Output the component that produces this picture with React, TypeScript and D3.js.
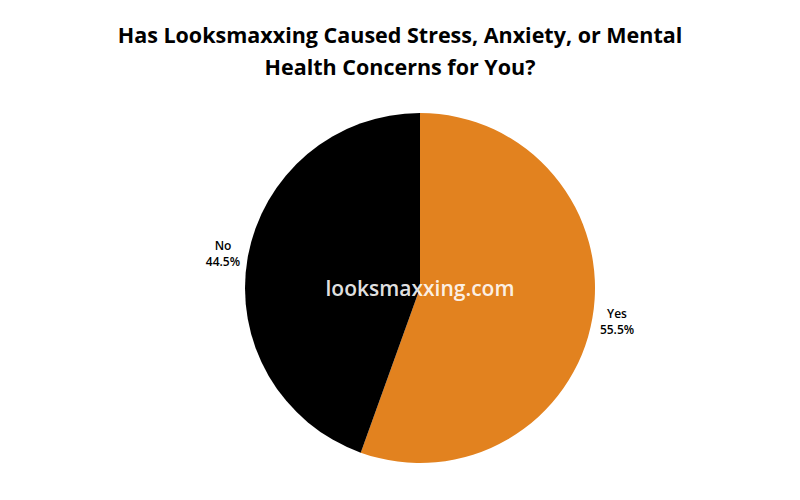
import * as d3 from 'd3';

const categories = ['Yes', 'No'];
const shares = [55.5, 44.5];
const colors = ['#E2821F', '#000000'];
const titleLines = ['Has Looksmaxxing Caused Stress, Anxiety, or Mental', 'Health Concerns for You?'];
const watermark = 'looksmaxxing.com';

export default function App(): React.ReactNode {
  const width = 800;
  const height = 500;
  const cx = 420;
  const cy = 288;
  const radius = 175;
  const labelRadius = 200;

  const pie = d3
    .pie<number>()
    .sort(null)
    .value((d) => d);
  const arcs = pie(shares);
  const arc = d3.arc<d3.PieArcDatum<number>>().innerRadius(0).outerRadius(radius);
  const labelArc = d3
    .arc<d3.PieArcDatum<number>>()
    .innerRadius(labelRadius)
    .outerRadius(labelRadius);

  return (
    <svg
      width={width}
      height={height}
      style={{ position: 'absolute', left: 0, top: 0, background: '#fff' }}
      fontFamily="'Open Sans', sans-serif"
    >
      {titleLines.map((t, i) => (
        <text
          key={i}
          x={400}
          y={43 + i * 32}
          textAnchor="middle"
          fontSize={21.5}
          fontWeight={700}
          fill="#000"
        >
          {t}
        </text>
      ))}
      <g transform={`translate(${cx},${cy})`}>
        {arcs.map((a, i) => (
          <path key={i} d={arc(a) ?? ''} fill={colors[i]} />
        ))}
        {arcs.map((a, i) => {
          const [lx, ly] = labelArc.centroid(a);
          return (
            <g key={i}>
              <text
                x={lx}
                y={ly - 4}
                textAnchor="middle"
                fontSize={12}
                fontWeight={600}
                fill="#000"
              >
                {categories[i]}
              </text>
              <text
                x={lx}
                y={ly + 12}
                textAnchor="middle"
                fontSize={12}
                fontWeight={600}
                fill="#000"
              >
                {shares[i].toFixed(1)}%
              </text>
            </g>
          );
        })}
        <text
          x={0}
          y={8}
          textAnchor="middle"
          fontSize={21}
          fontWeight={600}
          fill="#fff"
          fillOpacity={0.9}
        >
          {watermark}
        </text>
      </g>
    </svg>
  );
}
